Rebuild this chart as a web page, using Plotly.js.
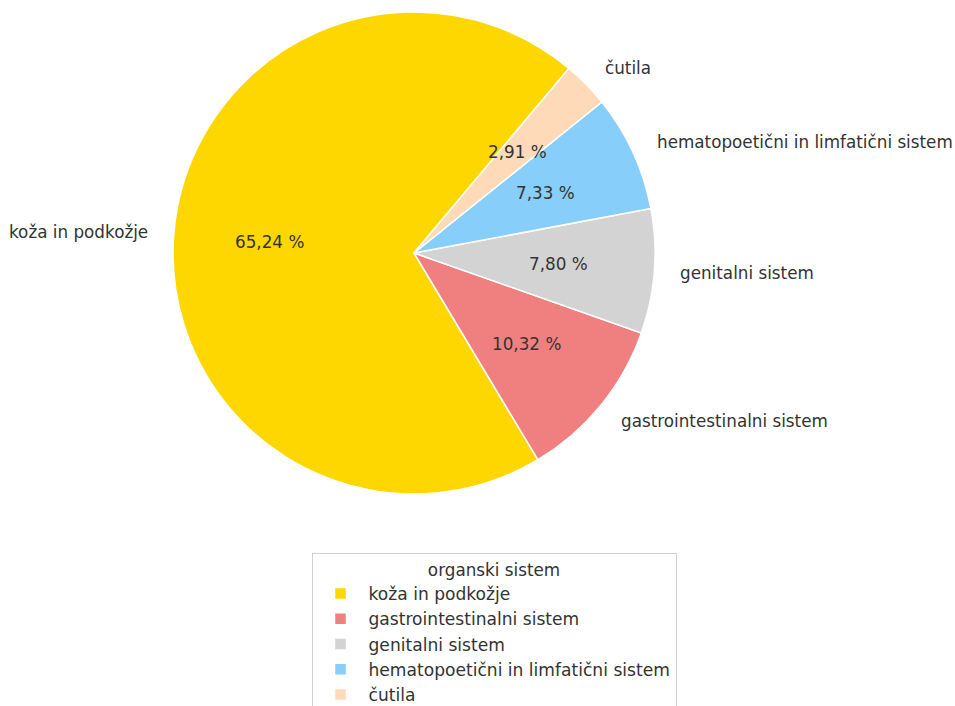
<!DOCTYPE html>
<html>
<head>
<meta charset="utf-8">
<script src="https://cdn.plot.ly/plotly-3.0.1.min.js"></script>
<style>html,body{margin:0;padding:0;background:#fff;}#chart{width:955px;height:706px;}</style>
</head>
<body>
<div id="chart"></div>
<script>
const categories = ["koža in podkožje", "gastrointestinalni sistem", "genitalni sistem", "hematopoetični in limfatični sistem", "čutila"];
const shares = [65.24, 10.32, 7.80, 7.33, 2.91];
const colors = ["#FFD700", "#F08080", "#D3D3D3", "#87CEFA", "#FFDAB9"];
const legendTitle = "organski sistem";

const W = 955, H = 706;
const font = {family: "DejaVu Sans, sans-serif", size: 16.8, color: "#333333"};
const domain = {x: [0.1812, 0.6859], y: [0.3003, 0.983]};
const startAngle = 50; // math convention, counterclockwise

const total = shares.reduce((a, b) => a + b, 0);
const span0 = 360 * shares[0] / total;
let rotation = (90 - startAngle) - span0;
while (rotation < -360) rotation += 360;
while (rotation > 360) rotation -= 360;

const pctText = shares.map(v => v.toFixed(2).replace('.', ',') + ' %');

// label positions derived from the data (mid angle of each slice)
const cxP = (domain.x[0] + domain.x[1]) / 2;
const cyP = (domain.y[0] + domain.y[1]) / 2;
const rPx = Math.min((domain.x[1] - domain.x[0]) * W, (domain.y[1] - domain.y[0]) * H) / 2;
const annotations = [];
let acc = startAngle;
shares.forEach((v, i) => {
  const ang = 360 * v / total;
  const mid = (acc + ang / 2) * Math.PI / 180;
  acc += ang;
  const c = Math.cos(mid), s = Math.sin(mid);
  annotations.push({
    xref: 'paper', yref: 'paper', showarrow: false,
    x: cxP + 0.6 * rPx * c / W, y: cyP + 0.6 * rPx * s / H,
    xanchor: 'center', yanchor: 'middle', text: pctText[i], font: font
  });
  annotations.push({
    xref: 'paper', yref: 'paper', showarrow: false,
    x: cxP + 1.1 * rPx * c / W, y: cyP + 1.1 * rPx * s / H,
    xanchor: c >= 0 ? 'left' : 'right', yanchor: 'middle', text: categories[i], font: font
  });
});

const pie = {
  type: 'pie', labels: categories, values: shares, sort: false,
  direction: 'counterclockwise', rotation: rotation, domain: domain,
  marker: {colors: colors, line: {color: '#ffffff', width: 1.5}},
  textinfo: 'none', hoverinfo: 'label+percent', showlegend: true
};

const legendFont = Object.assign({}, font, {size: 17.1});
const layout = {
  width: W, height: H,
  margin: {l: 0, r: 0, t: 0, b: 0, autoexpand: false},
  paper_bgcolor: '#ffffff',
  font: font,
  showlegend: true,
  annotations: annotations,
  legend: {
    title: {text: legendTitle, side: 'top center', font: font},
    x: 0.5173, xanchor: 'center', y: 0.2167, yanchor: 'top',
    bordercolor: '#d0d0d0', borderwidth: 1, bgcolor: '#ffffff',
    font: legendFont, orientation: 'v', itemwidth: 46
  }
};
Plotly.newPlot('chart', [pie], layout, {displayModeBar: false});
</script>
</body>
</html>
